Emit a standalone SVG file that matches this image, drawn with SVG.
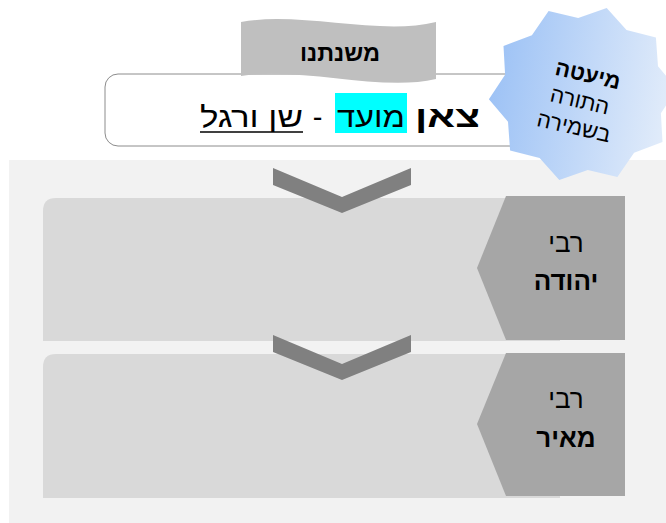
<svg xmlns="http://www.w3.org/2000/svg" width="666" height="523" viewBox="0 0 666 523">
<defs>
<linearGradient id="starGrad" x1="0" y1="0" x2="1" y2="0.15">
<stop offset="0" stop-color="#98bff5"/>
<stop offset="1" stop-color="#e0ebfa"/>
</linearGradient>
<style>
text{font-family:"Liberation Sans","DejaVu Sans",sans-serif;fill:#000}
.b{font-weight:bold}
.row{fill:#d9d9d9}
.tab{fill:#a6a6a6}
.chev{fill:#808080}
.rt{font-size:26px;text-anchor:middle}
.st{font-size:22px;text-anchor:middle}
</style>
</defs>
<rect width="666" height="523" fill="#ffffff"/>
<g id="panel">
<rect x="9" y="160" width="657" height="363" fill="#f2f2f2"/>
</g>
<g id="title">
<rect x="105" y="74" width="440" height="72" rx="13" ry="13" fill="#ffffff" stroke="#8c8c8c" stroke-width="1"/>
<rect x="335" y="93" width="72" height="40" fill="#00ffff"/>
<text x="415" y="127" font-size="30" textLength="65" lengthAdjust="spacingAndGlyphs" class="b">צאן</text>
<text x="337" y="127" font-size="29" textLength="68" lengthAdjust="spacingAndGlyphs">מועד</text>
<text x="317.5" y="127" font-size="29" text-anchor="middle">-</text>
<text x="200" y="127" font-size="29" textLength="103" lengthAdjust="spacingAndGlyphs">שן ורגל</text>
<line x1="200" y1="132" x2="303" y2="132" stroke="#000" stroke-width="1.5"/>
</g>
<g id="banner">
<path d="M241,22 C300,11 380,36 436,22 L436,79 C380,92 300,66 241,76 Z" fill="#bfbfbf"/>
<text x="300" y="61" font-size="23" textLength="80" lengthAdjust="spacingAndGlyphs" class="b">משנתנו</text>
</g>
<g id="star">
<polygon fill="url(#starGrad)" points="677.1,88.7 660.9,113.2 662.5,142.0 634.1,152.7 617.4,176.9 587.8,169.9 559.3,180.1 539.6,158.0 510.1,150.5 508.0,121.7 488.9,99.3 505.1,74.8 503.5,46.0 531.9,35.3 548.6,11.1 578.2,18.1 606.7,7.9 626.5,30.0 655.9,37.5 658.0,66.3"/>
<g transform="rotate(13 580 100)">
<text class="st b" x="582" y="81">מיעטה</text>
<text class="st" x="580" y="108">התורה</text>
<text class="st" x="580" y="135">בשמירה</text>
</g>
</g>
<g id="row-yehuda">
<path class="row" d="M43,341 L43,211 Q43,198 56,198 L560,198 L560,341 Z"/>
<polygon class="tab" points="506,196 625,196 625,340 506,340 477,268"/>
<text class="rt" x="566" y="252">רבי</text>
<text class="rt b" x="566" y="290">יהודה</text>
</g>
<g id="row-meir">
<path class="row" d="M43,498 L43,367 Q43,354 56,354 L560,354 L560,498 Z"/>
<polygon class="tab" points="506,353 625,353 625,496 506,496 477,424"/>
<text class="rt" x="566" y="408">רבי</text>
<text class="rt b" x="566" y="447">מאיר</text>
</g>
<g id="connectors">
<polygon class="chev" points="273,168 342,197 411,168 411,185 342,213 273,185"/>
<polygon class="chev" points="273,335 342,364 411,335 411,352 342,380 273,352"/>
</g>
</svg>
